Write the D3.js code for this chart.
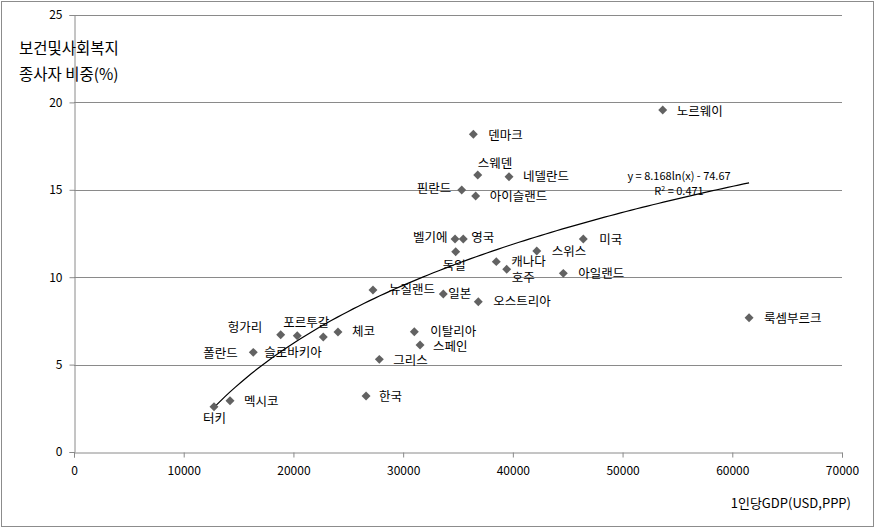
<!DOCTYPE html>
<html>
<head>
<meta charset="utf-8">
<script src="https://cdn.jsdelivr.net/npm/d3@7"></script>
<style>
  body { margin: 0; background: #fff; }
  text { font-family: "Noto Sans CJK KR", "Noto Sans", sans-serif; }
</style>
</head>
<body>
<div id="chart"></div>
<script>
const countries = ["터키", "멕시코", "폴란드", "헝가리", "슬로바키아", "포르투갈", "체코", "한국",
    "뉴질랜드", "그리스", "이탈리아", "스페인", "일본", "벨기에", "독일", "핀란드", "영국", "덴마크",
    "아이슬랜드", "스웨덴", "오스트리아", "캐나다", "호주", "네델란드", "스위스", "아일랜드", "미국",
    "노르웨이", "룩셈부르크"];
const gdp = [12760, 14220, 16340, 18840, 20350, 22720, 24060, 26620,
    27250, 27830, 31020, 31540, 33660, 34730, 34790, 35340, 35480, 36400,
    36610, 36800, 36850, 38490, 39440, 39650, 42180, 44600, 46420,
    53660, 61530];
const share = [2.59, 2.93, 5.70, 6.71, 6.65, 6.58, 6.86, 3.20,
    9.27, 5.30, 6.88, 6.12, 9.04, 12.19, 11.46, 14.99, 12.19, 18.18,
    14.65, 15.85, 8.60, 10.89, 10.45, 15.75, 11.50, 10.22, 12.19,
    19.57, 7.68];
// label placement relative to each marker [dx, dy]
const labelOffsets = [[-11, 12], [14, 1], [-50, 1], [-53, -7], [-33, 17], [-40, -14], [14, 0], [13, 1],
    [16, 0], [14, 1], [16, 0], [13, 2], [5, 0], [-42, -1], [-13, 14], [-45, -1], [8, -1], [15, 1],
    [14, 1], [0, -11], [15, 0], [15, 0], [5, 8], [14, 0], [15, 1], [15, 0], [16, 1],
    [14, 2], [15, 1]];
const xTicks = [0, 10000, 20000, 30000, 40000, 50000, 60000, 70000];
const yTicks = [0, 5, 10, 15, 20, 25];
const trendA = 8.168, trendB = -74.67;

const width = 876, height = 529;
const margin = { top: 15, right: 34, bottom: 77, left: 74 };

const svg = d3.select("#chart").append("svg")
    .attr("width", width)
    .attr("height", height);

svg.append("rect")
    .attr("x", 1.5).attr("y", 1.5)
    .attr("width", width - 4).attr("height", height - 4)
    .attr("fill", "#fff")
    .attr("stroke", "#8c8c8c");

const x = d3.scaleLinear().domain([0, 70000]).range([margin.left, width - margin.right]);
const y = d3.scaleLinear().domain([0, 25]).range([height - margin.bottom, margin.top]);

// grid
svg.append("g").selectAll("line")
    .data(yTicks.slice(1))
    .join("line")
    .attr("x1", x(0)).attr("x2", x(70000))
    .attr("y1", d => Math.round(y(d)) + 0.5).attr("y2", d => Math.round(y(d)) + 0.5)
    .attr("stroke", "#8a8a8a");

const xAxis = svg.append("g")
    .attr("transform", `translate(0,${Math.round(y(0)) + 0.5})`)
    .call(d3.axisBottom(x).tickValues(xTicks).tickFormat(d3.format("d")).tickSizeOuter(0).tickSize(5).tickPadding(9));
const yAxis = svg.append("g")
    .attr("transform", `translate(${Math.round(x(0)) + 0.5},0)`)
    .call(d3.axisLeft(y).tickValues(yTicks).tickSizeOuter(0).tickSize(5).tickPadding(7));
[xAxis, yAxis].forEach(g => {
    g.selectAll("path, line").attr("stroke", "#8a8a8a");
    g.selectAll("text").attr("font-size", 12).attr("fill", "#000")
        .attr("font-family", "'Noto Sans', sans-serif");
});

// trendline
const tx = d3.range(0, 101).map(i => d3.min(gdp) + (d3.max(gdp) - d3.min(gdp)) * i / 100);
svg.append("path")
    .datum(tx)
    .attr("fill", "none")
    .attr("stroke", "#000")
    .attr("stroke-width", 1.2)
    .attr("d", d3.line().x(d => x(d)).y(d => y(trendA * Math.log(d) + trendB)));

// markers
const pts = countries.map((c, i) => ({ name: c, gdp: gdp[i], share: share[i], off: labelOffsets[i] }));
svg.append("g").selectAll("path")
    .data(pts)
    .join("path")
    .attr("d", d3.symbol(d3.symbolSquare, 40))
    .attr("transform", d => `translate(${x(d.gdp)},${y(d.share)}) rotate(45)`)
    .attr("fill", "#626262");

svg.append("g").selectAll("text")
    .data(pts)
    .join("text")
    .attr("x", d => x(d.gdp) + d.off[0])
    .attr("y", d => y(d.share) + d.off[1])
    .attr("dy", "0.35em")
    .attr("font-size", 12.5)
    .attr("fill", "#000")
    .text(d => d.name);

// equation
const eq = svg.append("g").attr("font-size", 11).attr("text-anchor", "middle")
    .attr("font-family", "'Noto Sans', sans-serif");
eq.append("text").attr("x", 679).attr("y", 180).text(`y = ${trendA}ln(x) - ${Math.abs(trendB)}`);
const r2 = eq.append("text").attr("x", 679).attr("y", 195);
r2.append("tspan").text("R");
r2.append("tspan").attr("font-size", 7).attr("dy", -4).text("2");
r2.append("tspan").attr("dy", 4).text(" = 0.471");

// axis titles
svg.append("text").attr("x", 19).attr("y", 54).attr("font-size", 15.5).text("보건및사회복지");
svg.append("text").attr("x", 19).attr("y", 80).attr("font-size", 15.5).text("종사자 비중(%)");
svg.append("text").attr("x", 851).attr("y", 508).attr("font-size", 13)
    .attr("text-anchor", "end").text("1인당GDP(USD,PPP)");
</script>
</body>
</html>
